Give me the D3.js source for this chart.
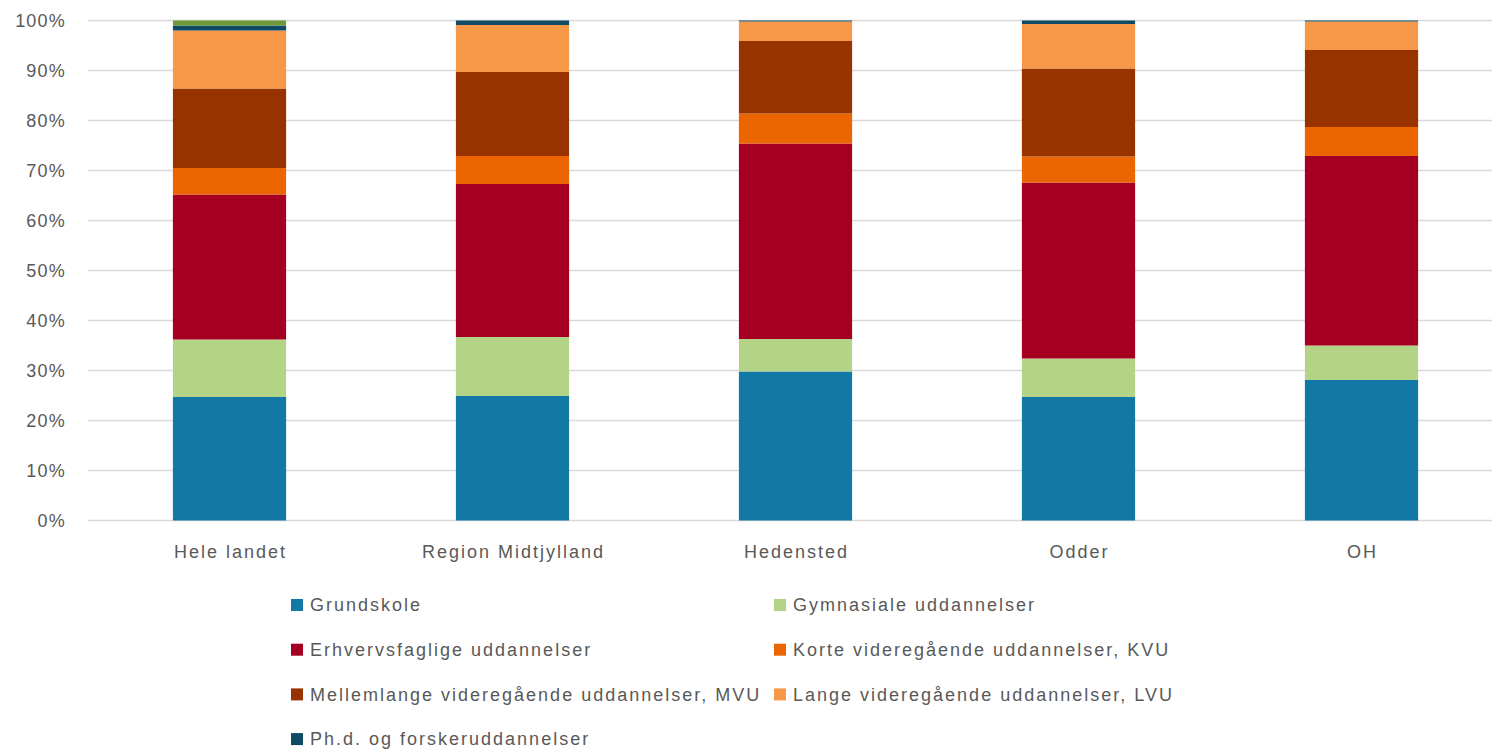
<!DOCTYPE html>
<html>
<head>
<meta charset="utf-8">
<script src="https://cdn.jsdelivr.net/npm/d3@7"></script>
<style>
  body { margin: 0; background: #fff; }
  svg text { font-family: "Liberation Sans", Arial, sans-serif; fill: #595959; }
</style>
</head>
<body>
<svg id="chart" width="1492" height="751"></svg>
<script>
// categories on the x axis
let categories = ["Hele landet", "Region Midtjylland", "Hedensted", "Odder", "OH"];

// series names (bottom to top)
let seriesNames = [
  "Grundskole",
  "Gymnasiale uddannelser",
  "Erhvervsfaglige uddannelser",
  "Korte videregående uddannelser, KVU",
  "Mellemlange videregående uddannelser, MVU",
  "Lange videregående uddannelser, LVU",
  "Ph.d. og forskeruddannelser",
  "Uoplyst"
];

// shares in percent, one array per series, in category order
let grundskole  = [24.7, 24.9, 29.8, 24.7, 28.1];
let gymnasiale  = [11.5, 11.8,  6.5,  7.7,  6.9];
let erhverv     = [29.0, 30.6, 39.1, 35.2, 37.9];
let kvu         = [ 5.3,  5.6,  6.0,  5.2,  5.8];
let mvu         = [15.9, 16.8, 14.5, 17.6, 15.4];
let lvu         = [11.6,  9.4,  3.9,  8.9,  5.7];
let phd         = [ 1.0,  0.9,  0.2,  0.7,  0.2];
let uoplyst     = [ 1.0,  0.0,  0.0,  0.0,  0.0];

let yTicks = [0, 10, 20, 30, 40, 50, 60, 70, 80, 90, 100];

let colors = ["#1279A7", "#B3D486", "#A50021", "#EB6600", "#983300", "#F79748", "#0E4A63", "#70993A"];

let allSeries = [grundskole, gymnasiale, erhverv, kvu, mvu, lvu, phd, uoplyst];

let rows = categories.map(function(c, i) {
  let r = {cat: c};
  seriesNames.forEach(function(s, j) { r[s] = allSeries[j][i]; });
  return r;
});

let svg = d3.select("#chart");

let x = d3.scaleBand().domain(categories).range([88, 1503]).paddingInner(0.6).paddingOuter(0.3);
let y = d3.scaleLinear().domain([0, 100]).range([520.5, 20.5]);

// gridlines
svg.append("g").selectAll("line").data(yTicks).enter().append("line")
  .attr("x1", 88).attr("x2", 1503)
  .attr("y1", d => y(d)).attr("y2", d => y(d))
  .attr("stroke", "#d9d9d9").attr("stroke-width", 1.3);

// y tick labels
svg.append("g").selectAll("text").data(yTicks).enter().append("text")
  .attr("x", 66).attr("y", d => y(d)).attr("dy", "0.35em")
  .attr("text-anchor", "end").style("font-size", "18px")
  .style("letter-spacing", "1.2px")
  .text(d => d + "%");

let stack = d3.stack().keys(seriesNames);
let stacked = stack(rows);

let layers = svg.append("g").selectAll("g").data(stacked).enter().append("g")
  .attr("fill", (d, i) => colors[i]);

layers.selectAll("rect").data(d => d).enter().append("rect")
  .attr("x", d => x(d.data.cat))
  .attr("width", x.bandwidth())
  .attr("y", d => y(d[1]))
  .attr("height", d => Math.max(0, y(d[0]) - y(d[1])));

// category labels
svg.append("g").selectAll("text").data(categories).enter().append("text")
  .attr("x", d => x(d) + x.bandwidth() / 2 + 1).attr("y", 558)
  .attr("text-anchor", "middle").style("font-size", "18px")
  .style("letter-spacing", "2px")
  .text(d => d);

// legend (7 named entries, two columns)
let legendItems = seriesNames.slice(0, 7);
let legend = svg.append("g").selectAll("g").data(legendItems).enter().append("g")
  .attr("transform", function(d, i) {
    let col = i % 2, row = Math.floor(i / 2);
    return "translate(" + (col == 0 ? 291 : 774) + "," + (605 + row * 44.7) + ")";
  });

legend.append("rect")
  .attr("x", 0).attr("y", -6).attr("width", 12).attr("height", 12)
  .attr("fill", (d, i) => colors[i]);

legend.append("text")
  .attr("x", 19).attr("y", 0).attr("dy", "0.35em")
  .style("font-size", "18px")
  .style("letter-spacing", "2px")
  .text(d => d);
</script>
</body>
</html>
